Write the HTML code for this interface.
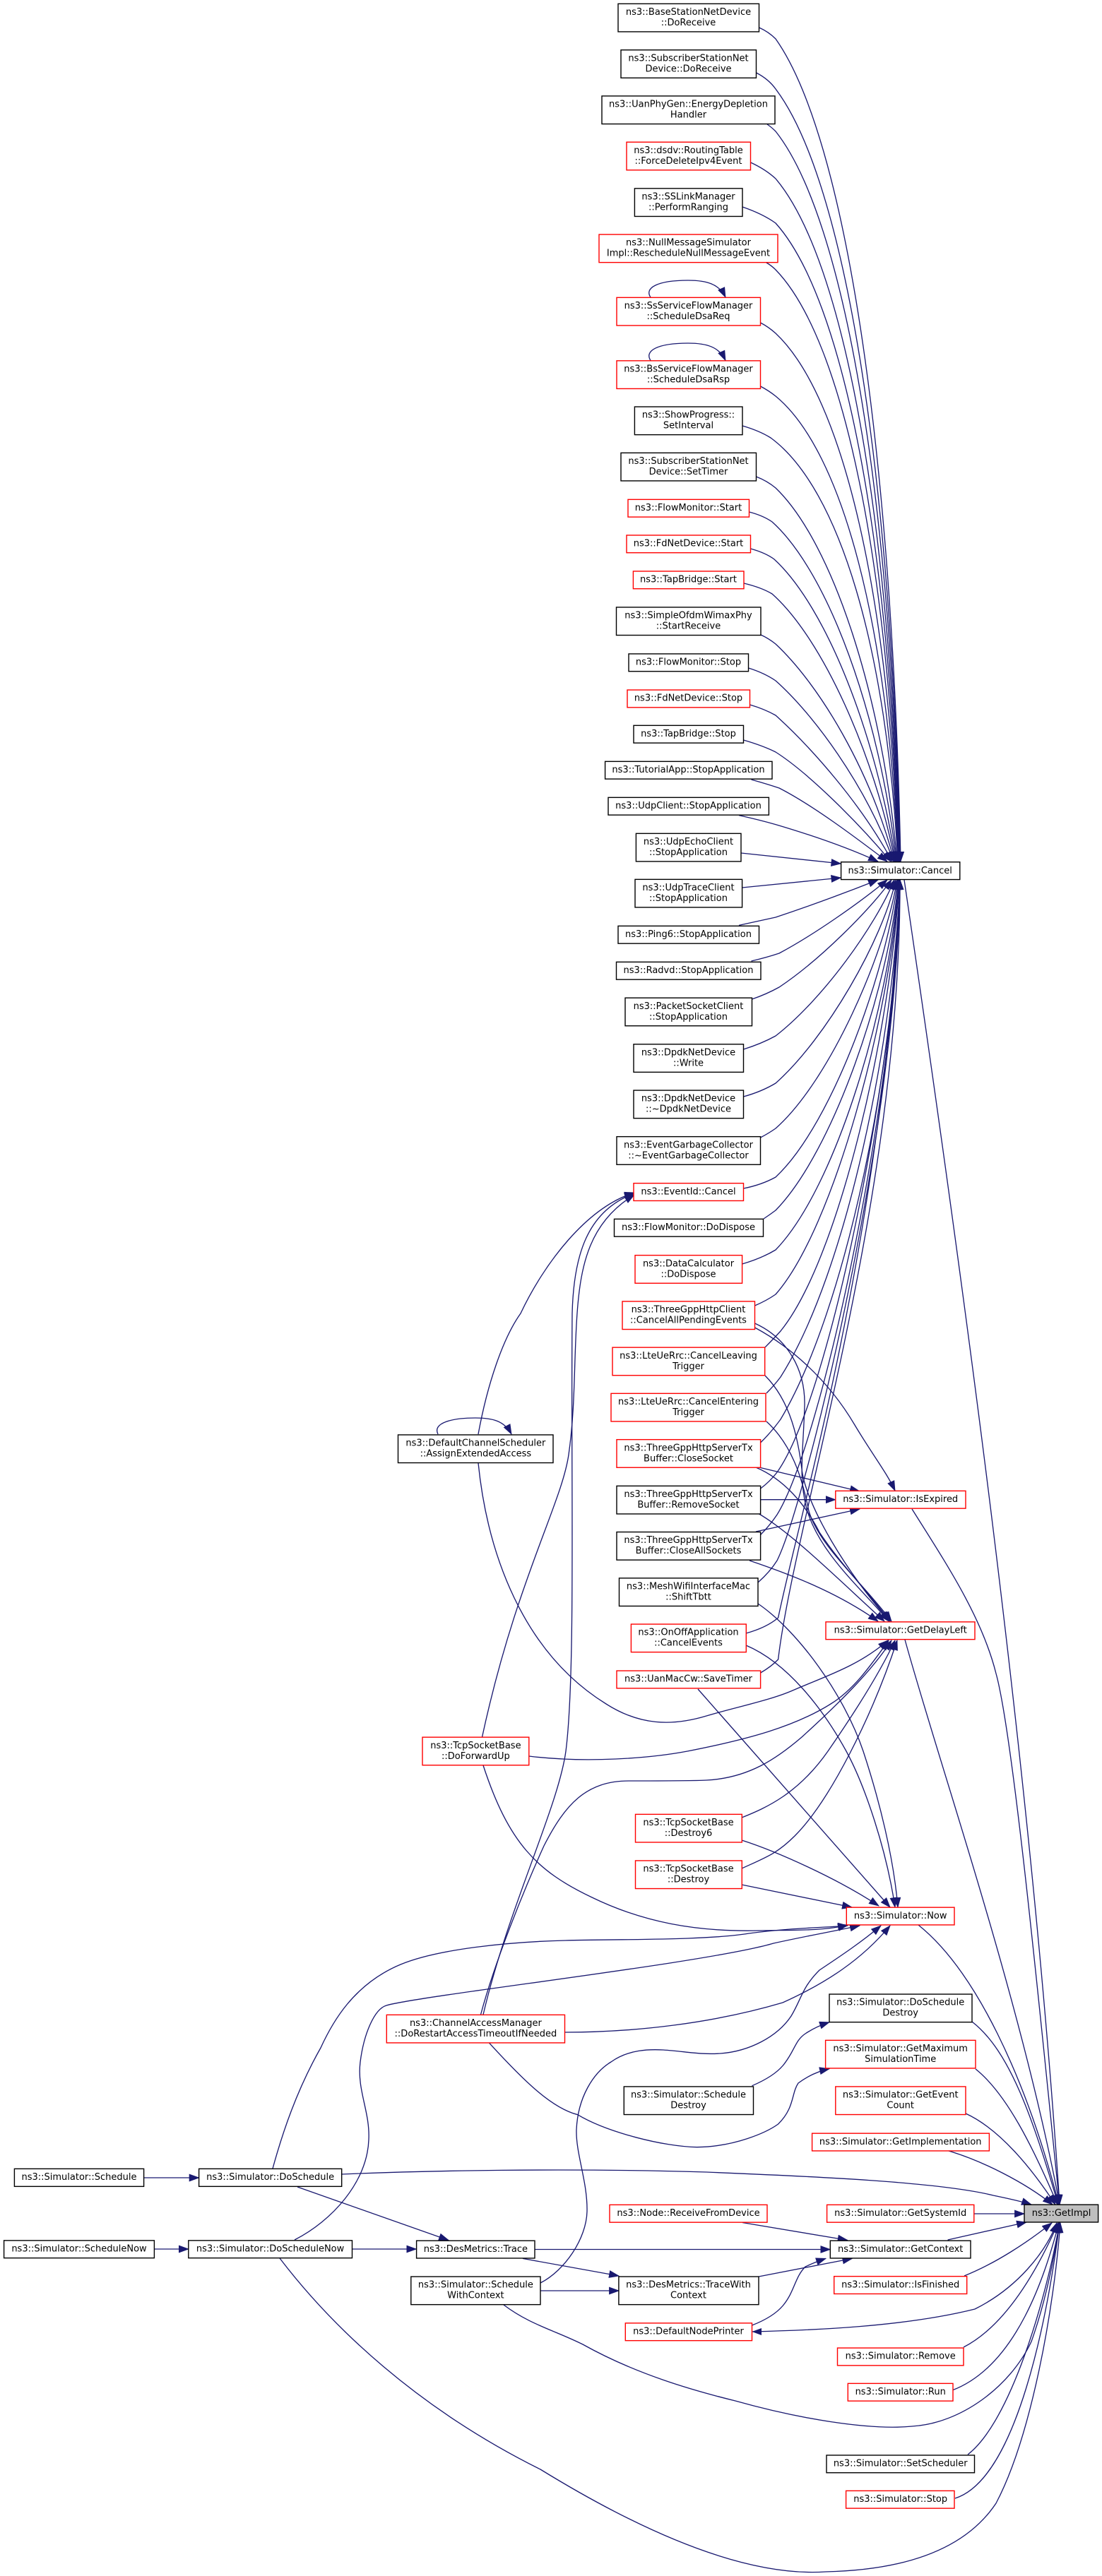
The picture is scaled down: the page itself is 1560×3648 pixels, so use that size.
<!DOCTYPE html>
<html><head><meta charset="utf-8"><title>ns3::GetImpl caller graph</title>
<style>
html,body{margin:0;padding:0;background:#fff}
svg{display:block}
.e path{fill:none;stroke:#191970;stroke-width:1.33;marker-end:url(#a)}
.n rect{fill:#fff;stroke-width:1.4;transform:translateY(.35px)}
.n rect.b{stroke:#000}
.n rect.r{stroke:#f00}
.n text{font-family:"DejaVu Sans","Liberation Sans",sans-serif;font-size:13px;text-anchor:middle;fill:#000}
</style></head><body>
<svg xmlns="http://www.w3.org/2000/svg" width="1560" height="3648" viewBox="0 0 1560 3648">
<defs><marker id="a" markerUnits="userSpaceOnUse" markerWidth="15" markerHeight="11" viewBox="0 0 15 11" refX="14" refY="5.5" orient="auto"><path d="M0.5,0.6L14,5.5L0.5,10.4z" fill="#191970" stroke="#191970" stroke-width="0.8"/></marker></defs>
<g class="e">
<!-- upper edges to Cancel -->
<path d="M1074.5,39Q1088,45 1098,55C1197,195 1263,637 1275,1220"/>
<path d="M1070.5,103Q1088,112 1098,126C1197,257 1262,672 1274.5,1220"/>
<path d="M1086,176Q1092,180 1098,186C1196,310 1261,702 1274,1220"/>
<path d="M1062.5,230Q1084,240 1098,253C1196,369 1260,736 1273.5,1220"/>
<path d="M1051,293Q1080,303 1098,316C1195,424 1259,767 1273,1220"/>
<path d="M1085,372Q1092,376 1098,382C1195,482 1258,800 1272.5,1220"/>
<path d="M1076.5,457Q1088,463 1098,472C1194,562 1258,845 1272,1220"/>
<path d="M1076.5,547Q1088,553 1098,561C1194,640 1257,890 1271.5,1220"/>
<path d="M1051,603Q1075,610 1091,620C1189,692 1255,920 1271,1220"/>
<path d="M1070.5,675Q1086,681 1098,691C1180,770 1250,990 1270,1220"/>
<path d="M1060.5,725Q1080,730 1093,739C1172,810 1245,1010 1269,1220"/>
<path d="M1062.5,777Q1084,783 1096,792C1170,860 1240,1040 1268,1220"/>
<path d="M1053,826Q1078,832 1093,841C1165,905 1238,1070 1267,1220"/>
<path d="M1077,899Q1088,904 1098,912C1160,970 1232,1090 1266,1220"/>
<path d="M1059.5,946Q1082,953 1098,964C1150,1010 1225,1110 1265,1220"/>
<path d="M1061.5,998Q1082,1004 1098,1013C1150,1060 1220,1140 1263,1220"/>
<path d="M1052.5,1048Q1080,1056 1098,1065C1145,1095 1215,1165 1261,1220"/>
<path d="M1063.5,1104Q1085,1110 1103,1116C1150,1140 1210,1185 1256,1220"/>
<path d="M1046,1154.6Q1075,1161 1098,1167.6C1140,1180 1195,1198 1243,1220"/>
<path d="M1049,1208L1190.4,1223"/>
<path d="M1050.6,1257L1190.4,1243"/>
<!-- lower edges to Cancel -->
<path d="M1046,1310.4Q1075,1304 1098,1299C1140,1285 1195,1265 1243,1246"/>
<path d="M1063.5,1361Q1085,1356 1103,1350C1150,1325 1215,1280 1256,1246"/>
<path d="M1064.5,1415Q1085,1408 1103,1398C1160,1360 1230,1290 1262,1246"/>
<path d="M1052.5,1486Q1078,1478 1098,1467C1165,1415 1240,1310 1266,1246"/>
<path d="M1052.5,1553Q1078,1546 1098,1534C1170,1470 1250,1330 1268,1246"/>
<path d="M1076.5,1611Q1088,1605 1098,1598C1175,1530 1253,1350 1270,1246"/>
<path d="M1052.5,1683Q1078,1678 1098,1667C1180,1590 1256,1370 1271,1246"/>
<path d="M1081,1726Q1090,1720 1098,1714C1180,1630 1258,1400 1272,1246"/>
<path d="M1050.6,1790Q1078,1782 1098,1770C1185,1680 1260,1420 1272,1246"/>
<path d="M1068.5,1849Q1085,1842 1098,1833C1180,1740 1260,1440 1273,1246"/>
<path d="M1083,1908Q1095,1896 1105,1885C1190,1780 1262,1450 1273,1246"/>
<path d="M1085,1973Q1096,1962 1105,1950C1200,1800 1265,1470 1274,1246"/>
<path d="M1076.6,2043Q1092,2028 1105,2010C1200,1850 1268,1500 1274,1246"/>
<path d="M1076.6,2108Q1090,2098 1100,2085C1175,1980 1270,1500 1274,1246"/>
<path d="M1076.6,2173.5Q1090,2160 1100,2145C1165,2040 1270,1540 1274,1246"/>
<path d="M1073,2241Q1090,2226 1100,2210C1140,2130 1270,1600 1274,1246"/>
<path d="M1056,2313Q1085,2305 1101.6,2291C1135,2130 1250,1750 1274,1246"/>
<path d="M1076.6,2369Q1092,2360 1101.6,2350C1125,2150 1275,1700 1274,1246"/>
<!-- Cancel to GetImpl -->
<path d="M1280,1246C1354,1750 1460,2500 1500,3122"/>
<!-- IsExpired -->
<path d="M1068.5,1880C1115,1905 1170,1950 1210,2018C1235,2060 1255,2085 1267,2111"/>
<path d="M1074.6,2078L1217,2112"/>
<path d="M1076.6,2123.7L1182.8,2123.7"/>
<path d="M1070,2169L1217,2137"/>
<path d="M1291,2137C1340,2215 1390,2290 1410,2370C1435,2460 1475,2880 1500,3122"/>
<!-- GetDelayLeft top -->
<path d="M1068.5,1874C1115,1895 1140,1940 1139,1990C1137,2060 1130,2090 1142,2137C1160,2200 1220,2250 1258,2296"/>
<path d="M1083,1948C1120,1985 1130,2040 1135,2080C1140,2130 1200,2230 1260,2296"/>
<path d="M1085,2013C1120,2045 1135,2090 1145,2140C1160,2190 1220,2240 1262,2296"/>
<path d="M1070,2078C1110,2095 1140,2130 1160,2170C1190,2215 1225,2250 1260,2296"/>
<path d="M1073,2143C1120,2170 1185,2235 1252,2296"/>
<path d="M1061,2210C1120,2230 1185,2255 1243,2296"/>
<!-- GetDelayLeft bottom -->
<path d="M677,2072C690,2200 740,2340 858,2413C905,2443 950,2445 1000,2430C1040,2418 1090,2408 1122,2394C1165,2375 1215,2360 1257,2323"/>
<path d="M749,2487C830,2497 920,2490 973,2480C1060,2463 1125,2445 1176,2413C1210,2392 1235,2355 1258,2323"/>
<path d="M680.5,2853C700,2780 740,2680 770,2614C800,2555 830,2522 890,2522C930,2522 980,2522 1000,2521C1060,2518 1100,2490 1135,2460C1190,2410 1235,2365 1262,2323"/>
<path d="M1050,2574C1085,2560 1130,2540 1172,2480C1210,2425 1245,2370 1267,2323"/>
<path d="M1050,2646C1085,2630 1100,2625 1125,2600C1175,2550 1235,2430 1270,2323"/>
<path d="M1281,2322C1330,2500 1445,2830 1500,3122"/>
<!-- Now -->
<path d="M988,2392L1260,2701"/>
<path d="M1073,2271C1130,2310 1195,2400 1222,2480C1245,2550 1265,2630 1271,2701"/>
<path d="M1056,2330C1115,2355 1165,2420 1198,2480C1225,2530 1255,2620 1267,2701"/>
<path d="M1050,2606C1100,2622 1185,2660 1244,2699"/>
<path d="M1050,2669L1206,2701"/>
<path d="M684,2500C720,2610 760,2650 838,2687C910,2722 985,2736 1074,2734C1120,2733 1165,2735 1200,2726"/>
<path d="M799.5,2878C900,2878 1010,2865 1108,2836C1170,2808 1220,2775 1260,2727"/>
<path d="M386,3071C400,3020 420,2960 454,2900C470,2865 500,2810 567,2782C620,2760 720,2750 800,2748C880,2746 1000,2748 1060,2738C1120,2730 1165,2730 1200,2727"/>
<path d="M417,3172C470,3145 520,3090 522,3030C524,2990 505,2960 510,2920C515,2880 530,2845 547,2840C600,2825 1000,2780 1095,2752C1140,2742 1180,2735 1217,2727"/>
<path d="M765,3233C800,3215 830,3170 831,3132C832,3090 815,3050 816,3016C818,2970 840,2935 865,2920C890,2902 920,2902 939,2903C970,2905 990,2910 1020,2908C1060,2905 1100,2885 1120,2855C1135,2830 1135,2815 1160,2790C1190,2770 1220,2750 1247,2727"/>
<path d="M1300,2726C1380,2790 1452,2940 1499,3122"/>
<!-- EventId incoming -->
<path d="M677,2031C690,1960 712,1895 737,1860C770,1790 830,1710 898,1689"/>
<path d="M682.5,2460C730,2240 795,2130 805,2060C815,1990 812,1930 817,1860C822,1790 835,1730 898,1692"/>
<path d="M684,2853C720,2700 790,2560 801,2480C815,2370 808,2100 810,1860C812,1780 830,1715 898,1690"/>
<!-- self loops -->
<path d="M921,421C912,408 930,397 974,397C1000,397 1018,402 1027,421"/>
<path d="M921,510.5C912,497 930,486 974,486C1000,486 1018,491 1027,510.5"/>
<path d="M620,2031C612,2015 640,2008 673,2008C697,2008 714,2012 724,2031"/>
<!-- into GetImpl -->
<path d="M1376,2863C1430,2905 1462,3000 1498,3122"/>
<path d="M1381,2930C1425,2965 1462,3040 1497,3122"/>
<path d="M1367,2993C1415,3015 1460,3070 1494,3122"/>
<path d="M1343,3046C1390,3060 1450,3090 1490,3122"/>
<path d="M484,3079C600,3074 800,3070 1000,3076C1150,3082 1330,3090 1406,3109C1425,3113 1445,3117 1460,3122"/>
<path d="M1379,3135L1450,3135"/>
<path d="M1341.6,3172L1453,3147"/>
<path d="M1365,3223C1410,3205 1455,3175 1489,3148"/>
<path d="M1064.5,3302C1150,3300 1280,3295 1380,3270C1440,3240 1480,3190 1496,3148"/>
<path d="M1364,3324C1430,3290 1475,3200 1498,3148"/>
<path d="M1348,3385C1440,3350 1480,3220 1499,3148"/>
<path d="M1370,3476C1430,3430 1480,3260 1500,3148"/>
<path d="M1352,3538C1440,3510 1483,3280 1500,3148"/>
<path d="M713,3264C750,3292 785,3300 825,3320C900,3362 980,3385 1041,3400C1130,3425 1230,3442 1291,3436C1360,3432 1430,3380 1460,3316C1480,3260 1492,3200 1500,3148"/>
<path d="M396,3198C470,3295 590,3410 765,3497C900,3580 1050,3650 1169,3642C1260,3640 1360,3620 1410,3545C1460,3450 1492,3270 1501,3148"/>
<!-- lower left cluster -->
<path d="M203.6,3084L281.6,3084"/>
<path d="M218.4,3185L266.8,3185"/>
<path d="M498.5,3185L589.3,3185"/>
<path d="M421,3097L635,3172.5"/>
<path d="M757,3185.5L1175.3,3185.5"/>
<path d="M740,3198.4L876,3223"/>
<path d="M765,3244L876,3244"/>
<path d="M1074,3224L1206.4,3198.4"/>
<path d="M1051,3147.5L1199.7,3172.4"/>
<path d="M1064.5,3293C1085,3285 1100,3275 1108.4,3265C1125,3245 1125,3225 1140,3210Q1155,3203 1169,3198.4"/>
<path d="M1064.5,2953.8C1085,2945 1100,2935 1108.4,2925C1125,2905 1125,2890 1140,2880Q1155,2870 1174,2863.8"/>
<path d="M692.7,2893.3C740,2945 780,2985 817.7,2994.7C860,3020 940,3040 986.7,3040.7C1040,3040 1085,3020 1101.6,3008C1125,2985 1120,2965 1130,2950Q1150,2935 1174,2929.7"/>
</g>
<polygon points="1064.5,3302 1078,3297 1078,3307" fill="#191970"/>
<g class="n">
<rect class="b" x="875" y="5" width="199.5" height="39.6"/><text x="974.5" y="21">ns3::BaseStationNetDevice</text><text x="974.5" y="36">::DoReceive</text>
<rect class="b" x="879" y="70.4" width="191.5" height="39.6"/><text x="974.5" y="86.4">ns3::SubscriberStationNet</text><text x="974.5" y="101.4">Device::DoReceive</text>
<rect class="b" x="852" y="135.6" width="245" height="39.6"/><text x="974.5" y="151.6">ns3::UanPhyGen::EnergyDepletion</text><text x="974.5" y="166.6">Handler</text>
<rect class="r" x="887" y="200.9" width="175.5" height="39.6"/><text x="974.5" y="216.9">ns3::dsdv::RoutingTable</text><text x="974.5" y="231.9">::ForceDeleteIpv4Event</text>
<rect class="b" x="898.4" y="266.5" width="152.6" height="39.6"/><text x="974.5" y="282.5">ns3::SSLinkManager</text><text x="974.5" y="297.5">::PerformRanging</text>
<rect class="r" x="848" y="331.7" width="253" height="39.6"/><text x="974.5" y="347.7">ns3::NullMessageSimulator</text><text x="974.5" y="362.7">Impl::RescheduleNullMessageEvent</text>
<rect class="r" x="873" y="421" width="203.5" height="39.6"/><text x="974.5" y="437">ns3::SsServiceFlowManager</text><text x="974.5" y="452">::ScheduleDsaReq</text>
<rect class="r" x="873" y="510.5" width="203.5" height="39.6"/><text x="974.5" y="526.5">ns3::BsServiceFlowManager</text><text x="974.5" y="541.5">::ScheduleDsaRsp</text>
<rect class="b" x="898.4" y="575.7" width="152.6" height="39.6"/><text x="974.5" y="591.7">ns3::ShowProgress::</text><text x="974.5" y="606.7">SetInterval</text>
<rect class="b" x="879" y="641" width="191.5" height="39.6"/><text x="974.5" y="657">ns3::SubscriberStationNet</text><text x="974.5" y="672">Device::SetTimer</text>
<rect class="r" x="889" y="707" width="171.5" height="24.8"/><text x="974.5" y="723">ns3::FlowMonitor::Start</text>
<rect class="r" x="887" y="757.6" width="175.5" height="24.8"/><text x="974.5" y="773.6">ns3::FdNetDevice::Start</text>
<rect class="r" x="896.4" y="808.6" width="156.6" height="24.8"/><text x="974.5" y="824.6">ns3::TapBridge::Start</text>
<rect class="b" x="872.5" y="859.6" width="204.5" height="39.6"/><text x="974.5" y="875.6">ns3::SimpleOfdmWimaxPhy</text><text x="974.5" y="890.6">::StartReceive</text>
<rect class="b" x="890" y="925.6" width="169.5" height="24.8"/><text x="974.5" y="941.6">ns3::FlowMonitor::Stop</text>
<rect class="r" x="888" y="976.7" width="173.5" height="24.8"/><text x="974.5" y="992.7">ns3::FdNetDevice::Stop</text>
<rect class="b" x="897" y="1027" width="155.5" height="24.8"/><text x="974.5" y="1043">ns3::TapBridge::Stop</text>
<rect class="b" x="856.6" y="1078" width="236.4" height="24.8"/><text x="974.5" y="1094">ns3::TutorialApp::StopApplication</text>
<rect class="b" x="861" y="1129" width="227.4" height="24.8"/><text x="974.5" y="1145">ns3::UdpClient::StopApplication</text>
<rect class="b" x="900.4" y="1180" width="148.6" height="39.6"/><text x="974.5" y="1196">ns3::UdpEchoClient</text><text x="974.5" y="1211">::StopApplication</text>
<rect class="b" x="1190.6" y="1220.4" width="168.2" height="24.8"/><text x="1274.2" y="1237">ns3::Simulator::Cancel</text>
<rect class="b" x="899" y="1245" width="151.6" height="39.6"/><text x="974.5" y="1261">ns3::UdpTraceClient</text><text x="974.5" y="1276">::StopApplication</text>
<rect class="b" x="875" y="1311" width="199.5" height="24.8"/><text x="974.5" y="1327">ns3::Ping6::StopApplication</text>
<rect class="b" x="872.5" y="1362" width="204.5" height="24.8"/><text x="974.5" y="1378">ns3::Radvd::StopApplication</text>
<rect class="b" x="885" y="1412.8" width="179.5" height="39.6"/><text x="974.5" y="1428.8">ns3::PacketSocketClient</text><text x="974.5" y="1443.8">::StopApplication</text>
<rect class="b" x="897" y="1478.4" width="155.5" height="39.6"/><text x="974.5" y="1494.4">ns3::DpdkNetDevice</text><text x="974.5" y="1509.4">::Write</text>
<rect class="b" x="897" y="1543.7" width="155.5" height="39.6"/><text x="974.5" y="1559.7">ns3::DpdkNetDevice</text><text x="974.5" y="1574.7">::~DpdkNetDevice</text>
<rect class="b" x="873" y="1609.3" width="203.5" height="39.6"/><text x="974.5" y="1625.3">ns3::EventGarbageCollector</text><text x="974.5" y="1640.3">::~EventGarbageCollector</text>
<rect class="r" x="897" y="1675.3" width="155.5" height="24.8"/><text x="974.5" y="1691.3">ns3::EventId::Cancel</text>
<rect class="b" x="869.5" y="1726" width="211" height="24.8"/><text x="974.5" y="1742">ns3::FlowMonitor::DoDispose</text>
<rect class="r" x="899" y="1777.3" width="151.6" height="39.6"/><text x="974.5" y="1793.3">ns3::DataCalculator</text><text x="974.5" y="1808.3">::DoDispose</text>
<rect class="r" x="881" y="1842.6" width="187.5" height="39.6"/><text x="974.5" y="1858.6">ns3::ThreeGppHttpClient</text><text x="974.5" y="1873.6">::CancelAllPendingEvents</text>
<rect class="r" x="867" y="1907.8" width="215.7" height="39.6"/><text x="974.5" y="1923.8">ns3::LteUeRrc::CancelLeaving</text><text x="974.5" y="1938.8">Trigger</text>
<rect class="r" x="865" y="1973" width="219" height="39.6"/><text x="974.5" y="1989">ns3::LteUeRrc::CancelEntering</text><text x="974.5" y="2004">Trigger</text>
<rect class="r" x="873" y="2038.3" width="203.6" height="39.6"/><text x="974.5" y="2054.3">ns3::ThreeGppHttpServerTx</text><text x="974.5" y="2069.3">Buffer::CloseSocket</text>
<rect class="b" x="873" y="2104" width="203.6" height="39.6"/><text x="974.5" y="2120">ns3::ThreeGppHttpServerTx</text><text x="974.5" y="2135">Buffer::RemoveSocket</text>
<rect class="b" x="873" y="2169.2" width="203.6" height="39.6"/><text x="974.5" y="2185.2">ns3::ThreeGppHttpServerTx</text><text x="974.5" y="2200.2">Buffer::CloseAllSockets</text>
<rect class="b" x="876.5" y="2234.5" width="196.5" height="39.6"/><text x="974.5" y="2250.5">ns3::MeshWifiInterfaceMac</text><text x="974.5" y="2265.5">::ShiftTbtt</text>
<rect class="r" x="893.4" y="2299.7" width="162.9" height="39.6"/><text x="974.5" y="2315.7">ns3::OnOffApplication</text><text x="974.5" y="2330.7">::CancelEvents</text>
<rect class="r" x="873" y="2365.7" width="203.6" height="24.8"/><text x="974.5" y="2381.7">ns3::UanMacCw::SaveTimer</text>
<rect class="b" x="563.5" y="2031.6" width="219.5" height="39.6"/><text x="673.4" y="2047.6">ns3::DefaultChannelScheduler</text><text x="673.4" y="2062.6">::AssignExtendedAccess</text>
<rect class="r" x="1182.8" y="2111" width="184.2" height="24.8"/><text x="1274.7" y="2127">ns3::Simulator::IsExpired</text>
<rect class="r" x="1169" y="2296.5" width="211" height="24.8"/><text x="1274.7" y="2312.5">ns3::Simulator::GetDelayLeft</text>
<rect class="r" x="598" y="2459.8" width="150.8" height="39.6"/><text x="673.4" y="2475.8">ns3::TcpSocketBase</text><text x="673.4" y="2490.8">::DoForwardUp</text>
<rect class="r" x="899.5" y="2569" width="150.8" height="39.6"/><text x="974.5" y="2585">ns3::TcpSocketBase</text><text x="974.5" y="2600">::Destroy6</text>
<rect class="r" x="899.5" y="2634.6" width="150.8" height="39.6"/><text x="974.5" y="2650.6">ns3::TcpSocketBase</text><text x="974.5" y="2665.6">::Destroy</text>
<rect class="r" x="1198.3" y="2700.8" width="152.7" height="24.8"/><text x="1274.7" y="2716.8">ns3::Simulator::Now</text>
<rect class="b" x="1174" y="2823.7" width="202" height="39.6"/><text x="1274.7" y="2839.7">ns3::Simulator::DoSchedule</text><text x="1274.7" y="2854.7">Destroy</text>
<rect class="r" x="1168.6" y="2889" width="212.4" height="39.6"/><text x="1274.7" y="2905">ns3::Simulator::GetMaximum</text><text x="1274.7" y="2920">SimulationTime</text>
<rect class="r" x="1182.8" y="2954.6" width="184.2" height="39.6"/><text x="1274.7" y="2970.6">ns3::Simulator::GetEvent</text><text x="1274.7" y="2985.6">Count</text>
<rect class="r" x="1149.6" y="3020.8" width="250.8" height="24.8"/><text x="1274.7" y="3036.8">ns3::Simulator::GetImplementation</text>
<rect class="r" x="547.3" y="2853" width="252.2" height="39.6"/><text x="673.4" y="2869">ns3::ChannelAccessManager</text><text x="673.4" y="2884">::DoRestartAccessTimeoutIfNeeded</text>
<rect class="b" x="883.3" y="2954.6" width="183.2" height="39.6"/><text x="974.5" y="2970.6">ns3::Simulator::Schedule</text><text x="974.5" y="2985.6">Destroy</text>
<rect class="b" x="1450" y="3121.8" width="104.6" height="24.8" style="fill:#bfbfbf"/><text x="1502.6" y="3138">ns3::GetImpl</text>
<rect class="r" x="1170.6" y="3122" width="208.2" height="24.8"/><text x="1274.7" y="3138">ns3::Simulator::GetSystemId</text>
<rect class="r" x="863" y="3122" width="223" height="24.8"/><text x="974.5" y="3138">ns3::Node::ReceiveFromDevice</text>
<rect class="b" x="1175.3" y="3172.8" width="198.7" height="24.8"/><text x="1274.7" y="3188.8">ns3::Simulator::GetContext</text>
<rect class="b" x="589.6" y="3172.8" width="167.4" height="24.8"/><text x="673.4" y="3188.8">ns3::DesMetrics::Trace</text>
<rect class="b" x="581.8" y="3223.7" width="183.2" height="39.6"/><text x="673.4" y="3239.7">ns3::Simulator::Schedule</text><text x="673.4" y="3254.7">WithContext</text>
<rect class="b" x="875.9" y="3223.7" width="198.1" height="39.6"/><text x="974.5" y="3239.7">ns3::DesMetrics::TraceWith</text><text x="974.5" y="3254.7">Context</text>
<rect class="r" x="1180.7" y="3223.3" width="188" height="24.8"/><text x="1274.7" y="3239.3">ns3::Simulator::IsFinished</text>
<rect class="r" x="885.3" y="3289.5" width="179.2" height="24.8"/><text x="974.5" y="3305.5">ns3::DefaultNodePrinter</text>
<rect class="r" x="1185.5" y="3324.7" width="178.5" height="24.8"/><text x="1274.7" y="3340.7">ns3::Simulator::Remove</text>
<rect class="r" x="1200.3" y="3375" width="148.7" height="24.8"/><text x="1274.7" y="3391">ns3::Simulator::Run</text>
<rect class="b" x="1170" y="3476.6" width="209.5" height="24.8"/><text x="1274.7" y="3492.6">ns3::Simulator::SetScheduler</text>
<rect class="r" x="1197.6" y="3527" width="153.4" height="24.8"/><text x="1274.7" y="3543">ns3::Simulator::Stop</text>
<rect class="b" x="20.4" y="3071" width="183.2" height="25"/><text x="112" y="3087">ns3::Simulator::Schedule</text>
<rect class="b" x="281.6" y="3071" width="202.1" height="25"/><text x="382.6" y="3087">ns3::Simulator::DoSchedule</text>
<rect class="b" x="5.6" y="3172.5" width="212.8" height="24.8"/><text x="112" y="3188.5">ns3::Simulator::ScheduleNow</text>
<rect class="b" x="266.8" y="3172.5" width="231.7" height="24.8"/><text x="382.6" y="3188.5">ns3::Simulator::DoScheduleNow</text>
</g>
</svg>
</body></html>
